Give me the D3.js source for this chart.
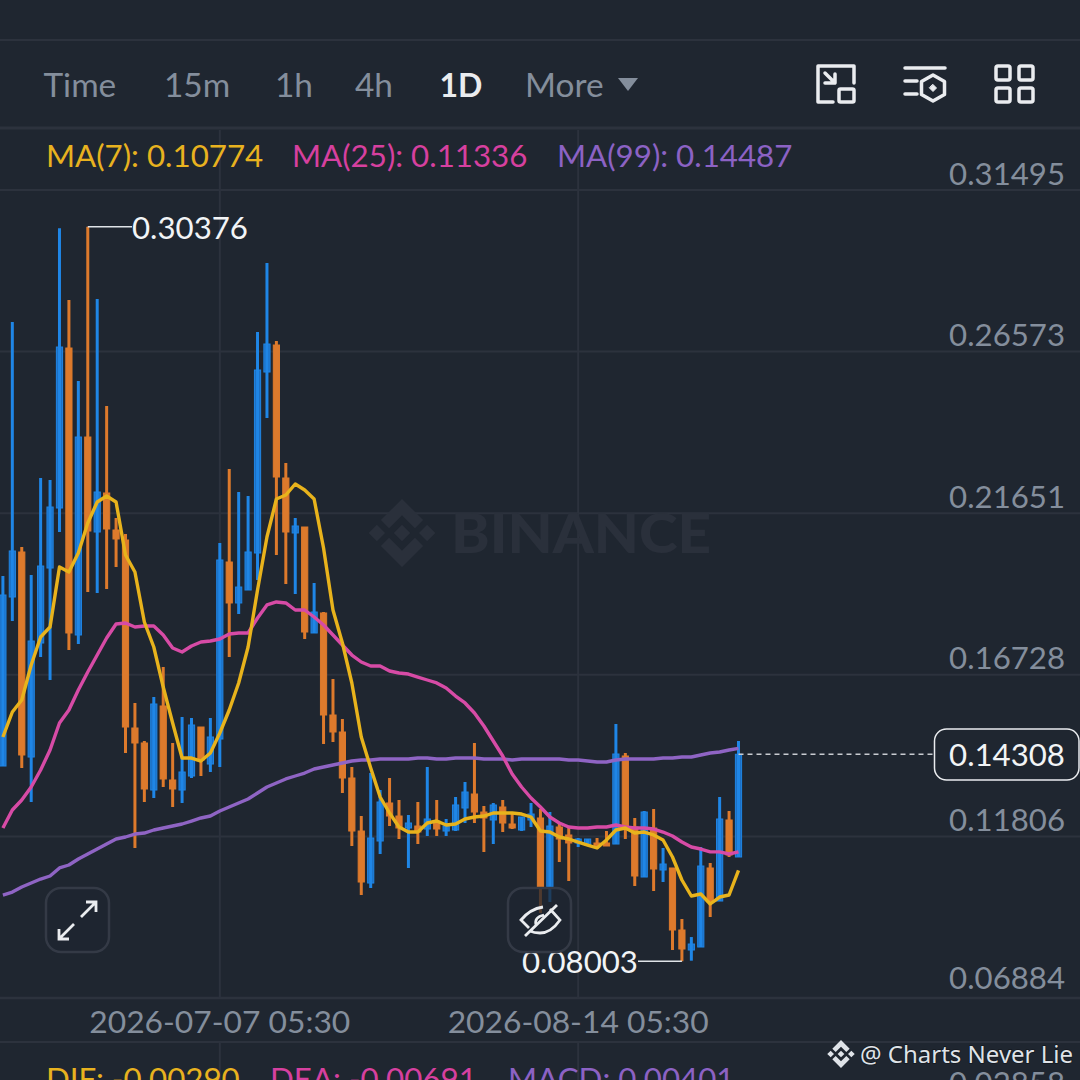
<!DOCTYPE html>
<html><head><meta charset="utf-8">
<script src="https://cdnjs.cloudflare.com/ajax/libs/d3/7.8.5/d3.min.js"></script>
<style>html,body{margin:0;padding:0;background:#1f2630;overflow:hidden}svg{display:block}</style>
</head><body><svg id="c" width="1080" height="1080"></svg>
<script>
const opens=[.13950,.19098,.20469,.14224,.17697,.19981,.21809,.26682,.17941,.23971,.21078,.22266,.21139,.20834,.15108,.14651,.13219,.15778,.13524,.13219,.13646,.15138,.14011,.14773,.20164,.18916,.19311,.20438,.25951,.26773,.22723,.21048,.21230,.18002,.18611,.15504,.14986,.13585,.11970,.10386,.11666,.12824,.12427,.12062,.12123,.12031,.12275,.11970,.12001,.12671,.13097,.12549,.12306,.12702,.12184,.12001,.12306,.12367,.10265,.12092,.11849,.11605,.11544,.11605,.11605,.11574,.14255,.12092,.10569,.12062,.10783,.10844,.08955,.08346,.08437,.10844,.09838,.12306,.11179];
const closes=[.19159,.20500,.14286,.17758,.20042,.21839,.26712,.18002,.23971,.21108,.22296,.21169,.20865,.15138,.14651,.13250,.15839,.13555,.13250,.13768,.15199,.14133,.14834,.20225,.18916,.19402,.20469,.26012,.26804,.22753,.21078,.21261,.18032,.18641,.15504,.14986,.13585,.11970,.10417,.11757,.12854,.12427,.12062,.12214,.11940,.12336,.12031,.12123,.12763,.13158,.12549,.12367,.12763,.12214,.12062,.12397,.12488,.10265,.12123,.11727,.11605,.11727,.11727,.11514,.11514,.14316,.12092,.10600,.12549,.10813,.10965,.08955,.08376,.08528,.10904,.09808,.12336,.11240,.14308];
const highs=[.19737,.27474,.20621,.19768,.22723,.22662,.30330,.28144,.25677,.30376,.28174,.24915,.21504,.21017,.15870,.14712,.16052,.16966,.14651,.15443,.15413,.15138,.15413,.20743,.22997,.22296,.22174,.27170,.29272,.26895,.23180,.21504,.21230,.19525,.18641,.16600,.15382,.13920,.12427,.13737,.13219,.13585,.12915,.12458,.12854,.13920,.12915,.12336,.13006,.13463,.14651,.12732,.12824,.12915,.12519,.12397,.12824,.12641,.12549,.12214,.12092,.11757,.11727,.11757,.11970,.15230,.14347,.12367,.12580,.12641,.11453,.10844,.09290,.08741,.11483,.10996,.13006,.12580,.14712];
const lows=[.13950,.18367,.13890,.12854,.17270,.16570,.21078,.17484,.17666,.19250,.19220,.19341,.20011,.14347,.11453,.12854,.12976,.13311,.12702,.12824,.13585,.13646,.13768,.13920,.17270,.18580,.19311,.19616,.24550,.20377,.19494,.19189,.17819,.18002,.14621,.14682,.13128,.11514,.10021,.10234,.11270,.12123,.11727,.10844,.11574,.11818,.11818,.11818,.11970,.12214,.12214,.11331,.11574,.11940,.12031,.11970,.12092,.09473,.09808,.11026,.10447,.11483,.11544,.11422,.11514,.11574,.11727,.10295,.10569,.10143,.10417,.08346,.08003,.08020,.08437,.09351,.09838,.11179,.11179];
const ma7=[.14834,.15595,.15961,.17027,.17880,.18184,.20011,.19859,.20438,.21352,.21991,.22174,.21991,.20377,.19859,.18336,.17575,.16356,.15260,.14194,.14194,.14102,.14347,.14956,.15656,.16479,.17575,.19311,.20925,.22083,.22205,.22540,.22357,.22083,.20591,.18702,.17697,.16479,.14834,.13890,.13006,.12519,.12092,.11940,.11940,.12214,.12275,.12153,.12184,.12336,.12397,.12427,.12519,.12519,.12519,.12488,.12397,.11970,.11940,.11788,.11727,.11635,.11544,.11453,.11696,.12001,.12062,.11909,.11940,.11849,.11696,.11179,.10478,.09991,.10052,.09747,.09960,.10021,.10774];
const ma25=[.12062,.12610,.12915,.13311,.13829,.14438,.15260,.15656,.16265,.16813,.17331,.17849,.18275,.18306,.18184,.18214,.18214,.17941,.17545,.17423,.17606,.17727,.17758,.17819,.17971,.18002,.18002,.18458,.18855,.18946,.18916,.18702,.18702,.18489,.18245,.17941,.17636,.17331,.17118,.16996,.16996,.16844,.16783,.16752,.16661,.16570,.16479,.16326,.16082,.15870,.15565,.15169,.14712,.14255,.13707,.13311,.12976,.12702,.12397,.12214,.12092,.12062,.12062,.12092,.12092,.12153,.12092,.12062,.12062,.12031,.11940,.11818,.11635,.11483,.11422,.11336,.11336,.11270,.11336];
const ma99=[.10021,.10112,.10265,.10386,.10508,.10600,.10844,.10935,.11118,.11270,.11422,.11574,.11727,.11788,.11879,.11909,.12001,.12062,.12123,.12184,.12275,.12367,.12427,.12580,.12702,.12824,.12946,.13128,.13311,.13433,.13555,.13646,.13737,.13859,.13920,.13981,.14042,.14102,.14133,.14133,.14163,.14163,.14163,.14163,.14194,.14194,.14163,.14163,.14194,.14194,.14194,.14163,.14163,.14163,.14133,.14163,.14163,.14163,.14163,.14163,.14133,.14133,.14102,.14072,.14072,.14133,.14163,.14163,.14163,.14163,.14194,.14194,.14224,.14224,.14286,.14347,.14377,.14438,.14487];
const priceTicks=[0.31495,0.26573,0.21651,0.16728,0.11806,0.06884];
const dateTicks=[{i:23,label:"2026-07-07 05:30"},{i:61,label:"2026-08-14 05:30"}];
const tabs=[["Time",43.5],["15m",164],["1h",275],["4h",355],["1D",439.5],["More",525]];
const legend=[["MA(7): 0.10774",46,"#e8b21f"],["MA(25): 0.11336",292,"#d6409f"],["MA(99): 0.14487",557,"#8c62c4"]];
const lowerLegend=[["DIF: -0.00290",46,"#e8b21f"],["DEA: -0.00691",270,"#d6409f"],["MACD: 0.00401",508,"#8c62c4"]];
const lastPrice=0.14308, maxPrice=0.30376, minPrice=0.08003;

const FONT="Lato, 'Open Sans', sans-serif";
const BG="#1f2630", GRID="#2c323d", UP="#1f86e6", DOWN="#dd7a2c", GREY="#848e9c";
const svg=d3.select("#c");
svg.append("rect").attr("width",1080).attr("height",1080).attr("fill",BG);
const x=d3.scaleLinear().domain([0,78]).range([2.9,738.5]);
const y=d3.scaleLinear().domain([0.06884,0.31495]).range([998,190]);
const idx=d3.range(opens.length);

// frame lines
const g0=svg.append("g");
[[40,2],[128,3],[1042,2]].forEach(([yy,w])=>g0.append("line").attr("x1",0).attr("x2",1080).attr("y1",yy).attr("y2",yy).attr("stroke",GRID).attr("stroke-width",w));
priceTicks.forEach(t=>g0.append("line").attr("x1",0).attr("x2",1080).attr("y1",y(t)).attr("y2",y(t)).attr("stroke",GRID).attr("stroke-width",t===0.06884?2.5:2));
dateTicks.forEach(t=>{
  [[130,998],[1042,1080]].forEach(([a,b])=>g0.append("line").attr("x1",x(t.i)).attr("x2",x(t.i)).attr("y1",a).attr("y2",b).attr("stroke",GRID).attr("stroke-width",2));
});

// Binance logo
function logo(g,cx,cy,r,fill){
  const P=p=>p.map(q=>[cx+q[0]*r,cy+q[1]*r].join(",")).join(" ");
  const d=(a,b,h)=>[[a,b-h],[a+h,b],[a,b+h],[a-h,b]];
  [d(0,0,.24),d(-.74,0,.24),d(.74,0,.24),
   [[0,-1],[.62,-.38],[.38,-.14],[0,-.52],[-.38,-.14],[-.62,-.38]],
   [[0,1],[.62,.38],[.38,.14],[0,.52],[-.38,.14],[-.62,.38]]
  ].forEach(p=>g.append("polygon").attr("points",P(p)).attr("fill",fill));
}
logo(svg,402,533,34,"#2a303b");
svg.append("text").attr("x",451).attr("y",553).attr("font-family","Lato,sans-serif").attr("font-weight",900).attr("font-size",56).attr("fill","#2a303b").attr("textLength",260).attr("lengthAdjust","spacingAndGlyphs").text("BINANCE");

// candles
const gc=svg.append("g");
gc.selectAll("line").data(idx).join("line")
  .attr("x1",i=>x(i)).attr("x2",i=>x(i)).attr("y1",i=>y(highs[i])).attr("y2",i=>y(lows[i]))
  .attr("stroke",i=>closes[i]>=opens[i]?UP:DOWN).attr("stroke-width",3);
gc.selectAll("rect").data(idx).join("rect")
  .attr("x",i=>x(i)-3.1).attr("width",6.2)
  .attr("y",i=>y(Math.max(opens[i],closes[i])))
  .attr("height",i=>Math.max(1.5,Math.abs(y(opens[i])-y(closes[i]))))
  .attr("fill",i=>closes[i]>=opens[i]?"#1d70c4":DOWN)
  .attr("stroke",i=>closes[i]>=opens[i]?UP:DOWN).attr("stroke-width",1);
gc.selectAll("line.w").data(idx.filter(i=>closes[i]>=opens[i])).join("line").attr("class","w")
  .attr("x1",i=>x(i)).attr("x2",i=>x(i)).attr("y1",i=>y(closes[i])).attr("y2",i=>y(opens[i]))
  .attr("stroke",UP).attr("stroke-width",3);

// moving averages
const line=d3.line().x((d,i)=>x(i)).y(d=>y(d));
[[ma99,"#8f64c4"],[ma25,"#d74ba6"],[ma7,"#e8b31c"]].forEach(([s,c])=>
  svg.append("path").attr("d",line(s)).attr("fill","none").attr("stroke",c).attr("stroke-width",3.4).attr("stroke-linejoin","round"));

// helpers
const T=(s,xx,yy,c,fs,o={})=>svg.append("text").attr("x",xx).attr("y",yy).attr("fill",c).attr("font-size",fs).attr("font-family",o.f||FONT).attr("font-weight",o.w||400).attr("text-anchor",o.a||"start").text(s);

// tabs
tabs.forEach(([s,xx])=>T(s,xx,97,s==="1D"?"#eaecef":GREY,s==="1D"?32:33.4,{w:s==="1D"?700:400}));
svg.append("path").attr("d","M618,78H638L628,91Z").attr("fill",GREY);

// legend
legend.forEach(([s,xx,c])=>T(s,xx,167,c,31.3));
lowerLegend.forEach(([s,xx,c])=>T(s,xx,1089.5,c,31.3));

// y labels
priceTicks.forEach(t=>T(t.toFixed(5),1065,y(t)-(t===0.06884?9:5.5),GREY,31.2,{a:"end"}));
T("0.02858",1065,1094,GREY,31.2,{a:"end"});
// x labels
dateTicks.forEach(t=>T(t.label,x(t.i),1033,GREY,31.8,{a:"middle"}));

// max/min annotations
svg.append("line").attr("x1",x(9)).attr("x2",132).attr("y1",y(maxPrice)).attr("y2",y(maxPrice)).attr("stroke","#dfe3e8").attr("stroke-width",1.5);
T(maxPrice.toFixed(5),132,239,"#f2f4f6",31.2);
svg.append("line").attr("x1",x(72)).attr("x2",638).attr("y1",y(minPrice)).attr("y2",y(minPrice)).attr("stroke","#dfe3e8").attr("stroke-width",1.5);
T(minPrice.toFixed(5),522,972.5,"#f2f4f6",31.2);

// last price
svg.append("line").attr("x1",x(78)).attr("x2",934).attr("y1",y(lastPrice)).attr("y2",y(lastPrice)).attr("stroke","#c9ccd1").attr("stroke-width",1.5).attr("stroke-dasharray","5 4");
svg.append("rect").attr("x",934.5).attr("y",729).attr("width",144.5).attr("height",51).attr("rx",12).attr("fill",BG).attr("stroke","#eaecef").attr("stroke-width",1.5);
T(lastPrice.toFixed(5),1007,766,"#f2f4f6",31.2,{a:"middle"});

// toolbar icons
const ic=svg.append("g").attr("fill","none").attr("stroke","#eaecef").attr("stroke-width",3.5).attr("stroke-linecap","round").attr("stroke-linejoin","round");
ic.append("path").attr("d","M833,102H818V66H854V83 M825,73L835,83 M825,83H835V74");
ic.append("rect").attr("x",839).attr("y",89).attr("width",15).attr("height",13).attr("rx",1.5);
ic.append("path").attr("d","M905,68H945 M905,81H917 M905,94H917 M933,75L944.5,81.5V94.5L933,101L921.5,94.5V81.5Z");
ic.append("path").attr("d","M933,84.5L936.5,88L933,91.5L929.5,88Z").attr("fill","#eaecef").attr("stroke-width",1);
[[996,66],[1019,66],[996,88],[1019,88]].forEach(([a,b])=>ic.append("rect").attr("x",a).attr("y",b).attr("width",14).attr("height",14).attr("rx",2));

// floating buttons
[[46,888],[508,888]].forEach(([a,b])=>svg.append("rect").attr("x",a).attr("y",b).attr("width",63).attr("height",64).attr("rx",15).attr("fill",BG).attr("fill-opacity",.75).attr("stroke","#343a46").attr("stroke-width",2.5));
const ib=svg.append("g").attr("fill","none").attr("stroke","#eaecef").attr("stroke-width",2.8);
ib.append("path").attr("d","M81,917L96,902 M86,902H96V912 M59,939L74,924 M59,929V939H69");
ib.append("path").attr("d","M529,928L521,920Q530,909 543,907 M550,909L560,920Q551,933 540,933Q534,933 530,931 M536,925Q534,917 544,915 M525,936L557,905");

// branding
const wm=svg.append("g");
logo(wm,841,1054,14,"#dfe3e8");
T("@ Charts Never Lie",860,1063,"#dfe3e8",24,{f:"'Noto Sans','Open Sans',sans-serif"}).style("paint-order","stroke").attr("stroke","#14181f").attr("stroke-width",1.5);
</script></body></html>
